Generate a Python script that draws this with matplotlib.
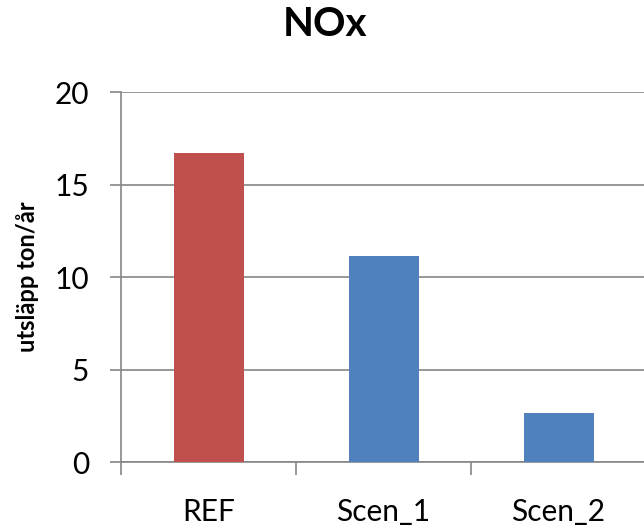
import matplotlib
matplotlib.use("Agg")
import matplotlib.pyplot as plt

categories = ["REF", "Scen_1", "Scen_2"]
values = [16.7, 11.15, 2.65]
colors = ["#C0504D", "#4F81BD", "#4F81BD"]
yticks = [0, 5, 10, 15, 20]

W, H = 644, 530
fig = plt.figure(figsize=(W/100, H/100), dpi=100)
left, right, top, bottom = 121, 646, 92, 462
ax = fig.add_axes([left/W, 1-bottom/H, (right-left)/W, (bottom-top)/H])

x = list(range(len(categories)))
ax.bar(x, values, width=0.4, color=colors, zorder=3)
ax.set_xlim(-0.5, len(categories)-0.5)
ax.set_ylim(0, 20)
ax.set_yticks(yticks)
ax.yaxis.grid(True, color="#868686", linewidth=1.2, zorder=0)
ax.set_xticks(x)
ax.set_xticklabels(categories)
ax.set_xticks([i - 0.5 for i in range(len(categories)+1)], minor=True)
ax.tick_params(axis="x", which="major", length=0, pad=26, labelsize=21.5)
ax.tick_params(axis="x", which="minor", length=9, color="#868686", width=1.2)
ax.tick_params(axis="y", length=8, color="#868686", width=1.2, labelsize=21.5, pad=15)
for s in ["top", "right"]:
    ax.spines[s].set_visible(False)
for s in ["left", "bottom"]:
    ax.spines[s].set_color("#868686")
    ax.spines[s].set_linewidth(1.2)

for lab in ax.get_xticklabels() + ax.get_yticklabels():
    lab.set_family("Lato")

ax.set_ylabel("utsläpp ton/år", fontsize=17, fontweight="bold", family="Lato", labelpad=11)
fig.text(325/W, 1-24/H, "NOx", ha="center", va="center", fontsize=29, fontweight="bold", family="Lato")

fig.savefig("out.png", dpi=100)
